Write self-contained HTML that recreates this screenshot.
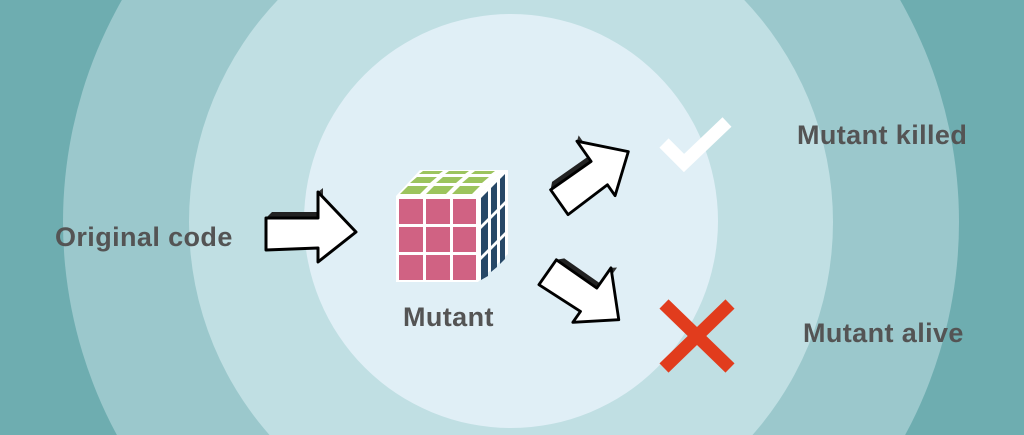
<!DOCTYPE html>
<html><head><meta charset="utf-8"><style>
html,body{margin:0;padding:0;width:1024px;height:435px;overflow:hidden}
body{background:#6eadb0;position:relative;font-family:"Liberation Sans",sans-serif}
.wrap{position:absolute;left:0;top:0;width:1024px;height:435px;overflow:hidden}
.t{position:absolute;font-weight:bold;color:#545454;font-size:27px;line-height:30px;white-space:nowrap;letter-spacing:0.4px}
</style></head><body>
<div class="wrap">
<svg width="1024" height="435" viewBox="0 0 1024 435" style="position:absolute;left:0;top:0;display:block;overflow:hidden">
<circle cx="511" cy="222" r="448" fill="#9bc8cc"/>
<circle cx="511" cy="222" r="322" fill="#c0dfe3"/>
<circle cx="511" cy="221" r="207" fill="#e0eff6"/>
<defs>
<g id="arr">
<polygon points="0,-8 6,-14 57,-14 52,-8" fill="#222"/>
<polygon points="52,-8 57,-14 57,-38 52,-34" fill="#333"/>
<polygon points="0,-8 52,-8 52,-34 90,6 52,36 52,22 0,24" fill="#fff" stroke="#000" stroke-width="3" stroke-linejoin="round"/>
</g>
</defs>
<use href="#arr" transform="translate(266,226)"/>
<use href="#arr" transform="translate(555,196) rotate(-35) scale(0.95)"/>
<use href="#arr" transform="translate(552,266) rotate(35) scale(0.95)"/>
<polygon points="396,196 420,170 504,170 478,196" fill="#fff"/>
<g fill="#9cc45e">
<polygon points="400,194 408,186 428,186 420,194"/><polygon points="426,194 434,186 454,186 446,194"/><polygon points="452,194 460,186 480,186 472,194"/>
<polygon points="410,183 417,177 437,177 430,183"/><polygon points="436,183 443,177 463,177 456,183"/><polygon points="462,183 469,177 489,177 482,183"/>
<polygon points="419,174 423,171 443,171 439,174"/><polygon points="445,174 449,171 469,171 465,174"/><polygon points="471,174 475,171 495,171 491,174"/>
</g>
<polygon points="478,196 504,170 508,170 508,254 478,282" fill="#fff"/>
<g fill="#274867">
<polygon points="481,198 488,191 488,218 481,225"/><polygon points="491,188 497,182 497,209 491,215"/><polygon points="500,179 505,174 505,201 500,206"/>
<polygon points="481,229 488,222 488,249 481,256"/><polygon points="491,219 497,213 497,240 491,246"/><polygon points="500,210 505,205 505,232 500,237"/>
<polygon points="481,260 488,253 488,276 481,280"/><polygon points="491,250 497,244 497,267 491,272"/><polygon points="500,241 505,236 505,259 500,264"/>
</g>
<rect x="396" y="196" width="82" height="86" fill="#fff"/>
<g fill="#d06283">
<rect x="399" y="199" width="24" height="25"/><rect x="426" y="199" width="24" height="25"/><rect x="453" y="199" width="23" height="25"/>
<rect x="399" y="227" width="24" height="25"/><rect x="426" y="227" width="24" height="25"/><rect x="453" y="227" width="23" height="25"/>
<rect x="399" y="255" width="24" height="25"/><rect x="426" y="255" width="24" height="25"/><rect x="453" y="255" width="23" height="25"/>
</g>
<polyline points="664,143 684,163 727,122" fill="none" stroke="#fff" stroke-width="13"/>
<g stroke="#e13c1d" stroke-width="13"><line x1="664" y1="304" x2="730" y2="368"/><line x1="730" y1="304" x2="664" y2="368"/></g>
</svg>
<div class="t" style="left:55px;top:222px">Original code</div>
<div class="t" style="left:403px;top:302px">Mutant</div>
<div class="t" style="left:797px;top:120px">Mutant killed</div>
<div class="t" style="left:803px;top:318px">Mutant alive</div>
</div>
</body></html>
